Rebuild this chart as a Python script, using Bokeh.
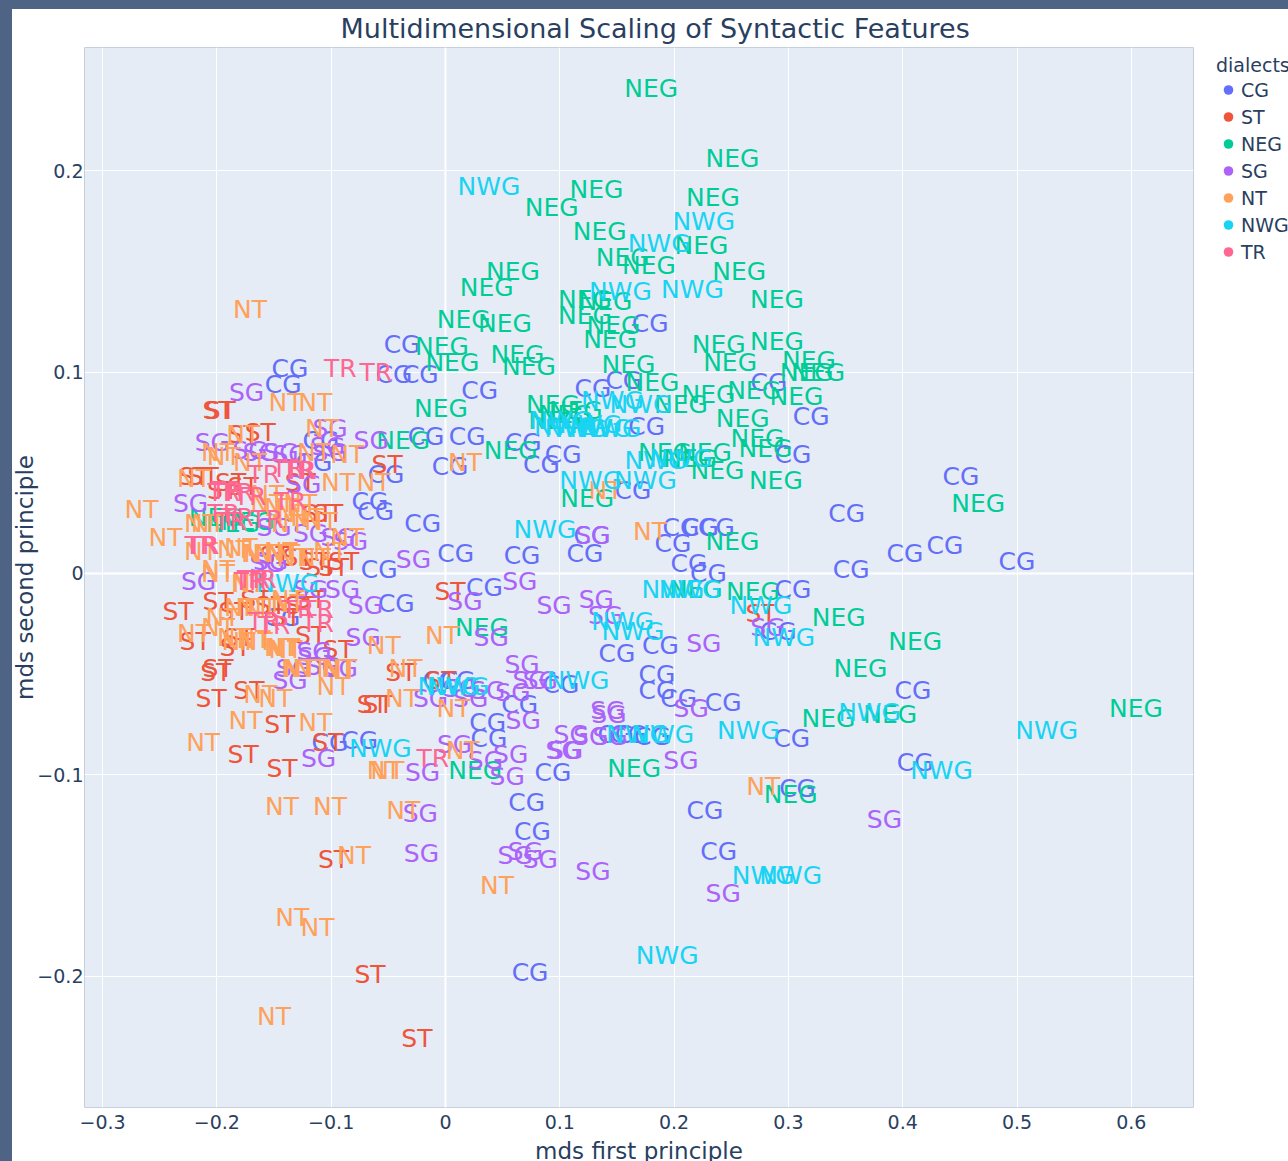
from bokeh.plotting import figure
from bokeh.embed import file_html
from bokeh.resources import INLINE
from bokeh.models import FixedTicker, Legend, LegendItem, Range1d, Span, ColumnDataSource, Title
from bokeh.core.properties import value

dialects = ["CG", "ST", "NEG", "SG", "NT", "NWG", "TR"]
colors = ["#636efa", "#EF553B", "#00cc96", "#ab63fa", "#FFA15A", "#19d3f3", "#FF6692"]

cg_x = [.451,.351,.437,.402,.500,.355,-.136,-.142,-.038,-.045,-.022,.030,.129,.156,.179,.320,.283,.176,-.017,.019,.068,.103,.084,.304,.004,-.052,-.066,-.061,-.020,.009,.067,.122,.128,.164,.199,.206,.223,.237,.213,.230,-.058,.034,-.043,.304,.291,.150,.188,.185,.185,.204,.243,.409,.010,.065,.037,.038,-.075,-.101,.160,.181,.303,.094,.071,.227,.308,.411,.076,.239,.074,-.143,-.115,-.109,.101,-.004,.149]
cg_y = [.048,.030,.014,.010,.006,.002,.102,.094,.114,.099,.099,.091,.092,.096,.124,.078,.095,.073,.068,.068,.065,.059,.054,.059,.053,.049,.036,.031,.025,.010,.009,.010,.019,.041,.015,.023,.023,.023,.005,-.000,.002,-.007,-.015,-.008,-.029,-.040,-.036,-.050,-.058,-.062,-.064,-.058,-.053,-.065,-.074,-.082,-.083,-.084,-.080,-.081,-.082,-.099,-.114,-.118,-.107,-.094,-.128,-.138,-.198,-.022,.055,.066,-.055,-.053,-.080]

st_x = [-.025,-.066,-.098,-.177,-.143,-.103,-.205,-.172,-.145,-.064,-.059,-.039,-.094,-.118,-.234,-.199,-.185,-.219,-.184,-.199,-.201,-.199,-.197,-.177,-.162,-.051,.004,.276,-.220,-.212,-.188,-.177,-.127,-.103,-.112,-.098,-.109,-.129,-.149,-.195,-.153,-.127,-.166,-.115,-.089,-.118,-.140,-.181,-.004]
st_y = [-.231,-.199,-.142,-.090,-.097,-.084,-.062,-.058,-.075,-.065,-.065,-.049,-.038,-.031,-.019,-.014,-.019,-.034,-.037,-.047,-.049,.081,.081,.069,.070,.054,-.009,-.020,.048,.048,.045,.043,.045,.030,.030,.003,.003,.008,.009,.041,-.016,-.016,-.013,.006,.006,-.013,-.022,-.032,-.053]

neg_x = [.180,.251,.132,.234,.093,.135,.224,.155,.178,.257,.059,.036,.290,.122,.140,.122,.016,.052,.147,.144,.239,.290,-.003,.006,.063,.073,.160,.249,.318,.316,.326,.181,.230,.270,.307,.206,.094,-.004,.260,.105,.114,.096,.273,.280,.057,.192,.227,.214,.238,.289,.124,.466,.251,.269,.344,.411,.363,.032,.335,.389,.604,.026,.165,.302,.219,-.037,-.201,-.186,-.173]
neg_y = [.241,.206,.191,.187,.182,.170,.163,.157,.153,.150,.150,.142,.136,.136,.135,.128,.126,.124,.123,.116,.114,.115,.113,.105,.109,.103,.104,.105,.106,.100,.100,.095,.089,.091,.088,.084,.084,.082,.077,.079,.081,.076,.067,.062,.061,.060,.060,.057,.051,.046,.037,.035,.016,-.009,-.022,-.034,-.047,-.027,-.072,-.070,-.067,-.098,-.097,-.110,-.008,.066,.028,.025,.026]

sg_x = [-.174,-.101,-.065,-.103,-.223,-.216,-.090,-.070,-.028,.017,.065,.095,.132,.140,.040,-.072,.226,.067,.083,.142,.143,.215,.068,.110,.127,.144,.105,.103,.206,.057,.054,.008,.035,-.020,-.111,-.022,-.021,.061,.083,.070,.129,.243,.384,.282,.037,-.013,.013,-.136,-.114,-.092,-.204,-.162,-.136,-.083,-.153,-.118,.129,-.171,-.144,-.101,-.124,-.150,-.118,-.156,-.094,-.133,-.107,-.115,.022,.059,.074]
sg_y = [.090,.072,.066,.063,.035,-.004,-.008,-.016,.007,-.014,-.004,-.016,-.013,-.021,-.032,-.032,-.035,-.045,-.053,-.068,-.070,-.067,-.073,-.080,-.081,-.081,-.088,-.088,-.093,-.090,-.101,-.085,-.093,-.099,-.092,-.119,-.139,-.140,-.142,-.138,-.148,-.159,-.122,-.027,-.058,-.062,-.057,-.053,-.041,-.047,.065,.060,.059,.016,.006,-.008,.019,.061,.060,.060,.044,.023,.020,.005,.018,-.047,-.046,-.039,-.062,-.059,-.053]

nt_x = [-.171,-.140,-.114,-.266,-.245,-.212,-.175,-.114,-.143,-.101,-.037,-.080,-.134,-.112,-.150,.045,-.054,-.051,-.003,-.054,-.035,-.038,.007,.015,.278,.179,.017,.140,-.098,-.149,-.140,-.177,-.108,-.199,-.194,-.171,-.115,-.086,-.094,-.063,-.220,-.156,-.127,-.208,-.179,-.214,-.162,-.138,-.121,-.086,-.144,-.115,-.199,-.199,-.172,-.179,-.162,-.138,-.195,-.220,-.199,-.181,-.166,-.142,-.127,-.092,-.133,-.109,-.144,-.156,-.153,-.142,-.133,-.101,-.214,-.185,-.164,-.173,-.168,-.138,-.185,-.168,-.144,-.129,-.118,-.094,-.162]
nt_y = [.131,.085,.085,.032,.018,-.084,-.073,-.074,-.116,-.116,-.118,-.140,-.171,-.176,-.220,-.155,-.098,-.098,-.031,-.036,-.047,-.062,-.067,-.088,-.106,.021,.055,.041,-.056,-.062,-.038,.069,.072,.060,.058,.055,.060,.059,.045,.045,.047,.039,.035,.025,.013,.011,.010,.025,.028,.018,.011,.008,.000,.002,-.005,-.017,-.017,-.015,-.022,-.030,-.027,-.034,-.034,-.037,-.047,-.047,.030,.026,.033,.035,.010,.010,.008,.011,.025,.012,.010,-.005,-.017,-.013,-.032,-.033,-.037,-.047,-.047,-.047,-.060]

nwg_x = [.038,.226,.187,.216,.153,.146,.171,.105,.114,.144,.136,.184,.127,.175,.087,.199,.214,.276,.155,.164,.296,.003,.116,-.057,.265,.526,.371,.434,.168,.278,.302,.194,-.138,.101,.127,.206,.011,.190]
nwg_y = [.192,.175,.164,.141,.140,.086,.084,.073,.072,.072,.072,.056,.046,.046,.022,-.008,-.008,-.016,-.024,-.029,-.032,-.056,-.053,-.087,-.078,-.078,-.069,-.098,-.080,-.150,-.150,-.190,-.005,.076,.074,.057,-.056,-.080]

tr_x = [-.092,-.061,-.214,-.212,-.159,-.138,-.127,-.191,-.182,-.188,-.156,-.168,-.162,-.112,-.112,-.150,-.011,-.171,-.136,-.194,-.182,-.194,-.129,-.129,-.159,-.171]
tr_y = [.102,.100,.014,.014,.049,.052,.051,.041,.040,.026,.027,-.003,-.003,-.018,-.025,-.026,-.092,.038,.036,.030,.028,.040,.051,-.018,-.024,-.004]

xs = [cg_x, st_x, neg_x, sg_x, nt_x, nwg_x, tr_x]
ys = [cg_y, st_y, neg_y, sg_y, nt_y, nwg_y, tr_y]

x_ticks = [-0.3, -0.2, -0.1, 0, 0.1, 0.2, 0.3, 0.4, 0.5, 0.6]
x_labels = ["\u22120.3", "\u22120.2", "\u22120.1", "0", "0.1", "0.2", "0.3", "0.4", "0.5", "0.6"]
y_ticks = [-0.2, -0.1, 0, 0.1, 0.2]
y_labels = ["\u22120.2", "\u22120.1", "0", "0.1", "0.2"]

FONT = "DejaVu Sans"
INK = "#2a3f5f"

p = figure(frame_width=1109, frame_height=1060, output_backend="svg", toolbar_location=None,
           x_range=Range1d(-0.3158, 0.6544), y_range=Range1d(-0.2653, 0.2613),
           min_border_left=75, min_border_right=95, min_border_top=41, min_border_bottom=54,
           background_fill_color="#e5ecf6", border_fill_color="white", outline_line_color=None,
           margin=(6, 0, 0, 9))
p.title = Title(text="Multidimensional Scaling of Syntactic Features", align="left", offset=256,
                text_font=FONT, text_font_size="27px", text_font_style="normal", text_color=INK, standoff=7)

for ax, ticks, labels, name, std, lab_std in ((p.xaxis[0], x_ticks, x_labels, "mds first principle", 7, 6),
                                              (p.yaxis[0], y_ticks, y_labels, "mds second principle", 1, -4)):
    ax.ticker = FixedTicker(ticks=ticks)
    ax.major_label_overrides = {t: l for t, l in zip(ticks, labels)}
    ax.axis_line_color = None
    ax.major_tick_line_color = None
    ax.minor_tick_line_color = None
    ax.major_tick_out = 0
    ax.major_tick_in = 0
    ax.minor_tick_out = 0
    ax.minor_tick_in = 0
    ax.major_label_text_font = FONT
    ax.major_label_text_font_size = "19px"
    ax.major_label_text_color = INK
    ax.major_label_standoff = std
    ax.axis_label = name
    ax.axis_label_text_font = FONT
    ax.axis_label_text_font_style = "normal"
    ax.axis_label_text_font_size = "23px"
    ax.axis_label_text_color = INK
    ax.axis_label_standoff = lab_std

p.xgrid.ticker = FixedTicker(ticks=x_ticks)
p.ygrid.ticker = FixedTicker(ticks=y_ticks)
p.xgrid.grid_line_color = "white"
p.ygrid.grid_line_color = "white"
p.xgrid.grid_line_width = 1
p.ygrid.grid_line_width = 1
p.add_layout(Span(location=0, dimension="height", line_color="white", line_width=2, level="underlay"))
p.add_layout(Span(location=0, dimension="width", line_color="white", line_width=2, level="underlay"))

items = []
nan = float("nan")
for name, color, x, y in zip(dialects, colors, xs, ys):
    src = ColumnDataSource(dict(x=x, y=y, t=[name] * len(x)))
    p.text("x", "y", text="t", source=src, text_color=color, text_font=value(FONT),
           text_font_size="25px", text_align="center", text_baseline="middle")
    dot = p.scatter([nan], [nan], marker="circle", size=7, fill_color=color, line_color=None)
    items.append(LegendItem(label=name, renderers=[dot]))

legend = Legend(items=items, title="dialects", location=(23, 842), margin=0, padding=0, spacing=0,
                background_fill_alpha=0, border_line_color=None,
                glyph_width=24, glyph_height=27, label_height=27, label_standoff=1,
                label_text_font=FONT, label_text_font_size="19px", label_text_color=INK,
                title_text_font=FONT, title_text_font_size="19px", title_text_font_style="normal",
                title_text_color=INK, title_standoff=-1)
p.add_layout(legend, "right")

html = file_html(p, INLINE)
css = ("<style>html,body{background:#4f6484;overflow:hidden}"
       "body::before{content:'';position:fixed;left:0;top:0;bottom:0;width:12px;background:#4f6484;z-index:99}"
       "body::after{content:'';position:fixed;left:0;top:0;right:0;height:9px;background:#4f6484;z-index:99}</style>")
html = html.replace("<head>", "<head>" + css, 1)
open("out.html", "w").write(html)
